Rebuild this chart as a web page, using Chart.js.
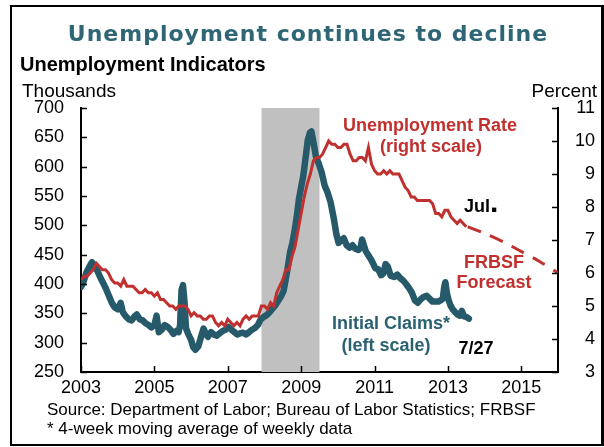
<!DOCTYPE html>
<html>
<head>
<meta charset="utf-8">
<script src="https://cdn.jsdelivr.net/npm/chart.js@4.4.1/dist/chart.umd.min.js"></script>
<style>
  html, body { margin: 0; padding: 0; background: #fff; }
  #wrap { position: relative; width: 604px; height: 447px; overflow: hidden; }
  #frame { position: absolute; left: 10px; top: 5px; width: 589px; height: 437px;
           border: 2px solid #000; border-right-width: 3px; box-sizing: content-box; }
  canvas { position: absolute; left: 0; top: 0; }
  .t { position: absolute; white-space: nowrap; line-height: 1; font-family: "Liberation Sans", Arial, sans-serif; }
  .c { transform: translateX(-50%); }
  .b { font-weight: bold; }
  .red { color: #c0302e; }
  .teal { color: #2a6171; }
</style>
</head>
<body>
<div id="wrap">
  <div id="frame"></div>
  <canvas id="chart" width="604" height="447"></canvas>

  <div class="t c" style="left:308px; top:23px; font-family:'DejaVu Sans', sans-serif; font-weight:bold; font-size:22px; letter-spacing:1px; color:#2e6676;">Unemployment continues to decline</div>
  <div class="t b" style="left:20px; top:54px; font-size:20px;">Unemployment Indicators</div>
  <div class="t" style="left:22px; top:81px; font-size:19px;">Thousands</div>
  <div class="t" style="right:7px; top:81px; font-size:19px;">Percent</div>

  <div class="t c b red" style="left:430px; top:116px; font-size:18px;">Unemployment Rate</div>
  <div class="t c b red" style="left:431px; top:137px; font-size:18px;">(right scale)</div>
  <div class="t b" style="left:464px; top:197px; font-size:18px;">Jul<span style="font-size:30px; line-height:0;">.</span></div>
  <div class="t c b red" style="left:494px; top:253px; font-size:18px;">FRBSF</div>
  <div class="t c b red" style="left:494px; top:273px; font-size:18px;">Forecast</div>
  <div class="t c b teal" style="left:391px; top:314px; font-size:18px;">Initial Claims*</div>
  <div class="t c b teal" style="left:386px; top:336px; font-size:18px;">(left scale)</div>
  <div class="t c b" style="left:476px; top:339px; font-size:18px;">7/27</div>

  <div class="t" style="left:47px; top:401px; font-size:17px;">Source: Department of Labor; Bureau of Labor Statistics; FRBSF</div>
  <div class="t" style="left:47px; top:420px; font-size:17px;">* 4-week moving average of weekly data</div>
</div>

<script>
// Unemployment indicators: initial claims (left axis) and unemployment rate (right axis)

var yearTicks = [2003, 2005, 2007, 2009, 2011, 2013, 2015];
var recession = [2007.92, 2009.5];

// monthly unemployment rate, Jan 2003 - Jul 2013
var urateStart = 2003;
var urate = [
  5.8, 5.9, 5.9, 6.0, 6.1, 6.3, 6.2, 6.1, 6.1, 6.0, 5.8, 5.7,
  5.7, 5.6, 5.8, 5.6, 5.6, 5.6, 5.5, 5.4, 5.4, 5.5, 5.4, 5.4,
  5.3, 5.4, 5.2, 5.2, 5.1, 5.0, 5.0, 4.9, 5.0, 5.0, 5.0, 4.9,
  4.7, 4.8, 4.7, 4.7, 4.6, 4.6, 4.7, 4.7, 4.5, 4.4, 4.5, 4.4,
  4.6, 4.5, 4.4, 4.5, 4.4, 4.6, 4.7, 4.6, 4.7, 4.7, 4.7, 5.0,
  5.0, 4.9, 5.1, 5.0, 5.4, 5.6, 5.8, 6.1, 6.1, 6.5, 6.8, 7.3,
  7.8, 8.3, 8.7, 9.0, 9.4, 9.5, 9.5, 9.6, 9.8, 10.0, 9.9, 9.9,
  9.8, 9.8, 9.9, 9.9, 9.6, 9.4, 9.4, 9.5, 9.5, 9.4, 9.8, 9.3,
  9.1, 9.0, 9.0, 9.1, 9.0, 9.1, 9.0, 9.0, 9.0, 8.8, 8.6, 8.5,
  8.3, 8.3, 8.2, 8.2, 8.2, 8.2, 8.2, 8.1, 7.8, 7.8, 7.7, 7.9,
  7.9, 7.7, 7.6, 7.5, 7.6, 7.5, 7.4
];

// FRBSF forecast path
var forecastYears = [2013.54, 2014.0, 2014.5, 2015.0, 2015.5, 2016.0];
var forecastValues = [7.4, 7.2, 6.95, 6.65, 6.35, 6.0];

// initial claims, 4-week moving average (thousands)
var claimsYears = [
  2003.00, 2003.06, 2003.15, 2003.25, 2003.30, 2003.38, 2003.45, 2003.52, 2003.60, 2003.68,
  2003.76, 2003.84, 2003.92, 2004.00, 2004.08, 2004.14, 2004.22, 2004.30, 2004.38, 2004.46,
  2004.52, 2004.60, 2004.68, 2004.76, 2004.84, 2004.92, 2005.00, 2005.06, 2005.12, 2005.20,
  2005.28, 2005.36, 2005.44, 2005.52, 2005.60, 2005.66, 2005.70, 2005.74, 2005.78, 2005.82,
  2005.86, 2005.92, 2006.00, 2006.06, 2006.12, 2006.20, 2006.28, 2006.34, 2006.40, 2006.46,
  2006.54, 2006.62, 2006.70, 2006.78, 2006.86, 2006.94, 2007.02, 2007.10, 2007.18, 2007.26,
  2007.34, 2007.42, 2007.50, 2007.58, 2007.66, 2007.74, 2007.82, 2007.90, 2007.98, 2008.06,
  2008.14, 2008.22, 2008.30, 2008.38, 2008.46, 2008.52, 2008.58, 2008.64, 2008.70, 2008.76,
  2008.82, 2008.88, 2008.94, 2009.00, 2009.06, 2009.12, 2009.18, 2009.24, 2009.28, 2009.34,
  2009.40, 2009.48, 2009.56, 2009.64, 2009.72, 2009.80, 2009.88, 2009.96, 2010.02, 2010.10,
  2010.16, 2010.24, 2010.32, 2010.40, 2010.48, 2010.56, 2010.62, 2010.66, 2010.70, 2010.76,
  2010.84, 2010.92, 2011.02, 2011.10, 2011.18, 2011.24, 2011.30, 2011.36, 2011.44, 2011.54,
  2011.62, 2011.70, 2011.78, 2011.86, 2011.94, 2012.02, 2012.10, 2012.18, 2012.26, 2012.34,
  2012.42, 2012.50, 2012.58, 2012.66, 2012.74, 2012.80, 2012.86, 2012.90, 2012.93, 2012.97,
  2013.02, 2013.08, 2013.14, 2013.20, 2013.26, 2013.32, 2013.38, 2013.44, 2013.50, 2013.57
];
var claimsValues = [
  395, 402, 420, 432, 437, 428, 422, 412, 402, 392,
  380, 368, 360, 357, 368, 352, 345, 340, 338, 345,
  348, 340, 338, 333, 330, 326, 330, 346, 318, 322,
  330, 327, 322, 315, 320, 318, 330, 390, 398, 370,
  325, 315, 305, 292, 288, 294, 312, 324, 315, 310,
  318, 314, 312, 316, 320, 322, 327, 322, 318, 314,
  316, 317, 314, 318, 322, 325, 330, 340, 344, 347,
  352, 358, 364, 372, 380, 388, 408, 430, 455, 470,
  490, 515, 545, 565, 585, 615, 645, 658, 660, 640,
  618, 605, 590, 568, 556, 540, 515, 485, 470, 475,
  478, 466, 462, 466, 460, 458, 462, 476, 468, 456,
  448, 440, 427, 425, 415, 418, 434, 430, 414, 412,
  416, 410, 406, 400, 393, 385, 372, 368, 374, 378,
  380, 375, 370, 370, 370, 372, 375, 395, 403, 385,
  372, 362, 356, 352, 348, 346, 354, 345, 344, 341
];

function pairs(xs, ys) {
  return xs.map(function (x, i) { return { x: x, y: ys[i] }; });
}

var urateData = urate.map(function (v, i) { return { x: urateStart + i / 12, y: v }; });

var RED = '#c0302e';
var TEAL = '#265a6b';

// grey recession band
var recessionBand = {
  id: 'recessionBand',
  beforeDatasetsDraw: function (chart) {
    var a = chart.chartArea, x = chart.scales.x, ctx = chart.ctx;
    var x0 = x.getPixelForValue(recession[0]);
    var x1 = x.getPixelForValue(recession[1]);
    ctx.save();
    ctx.fillStyle = '#c0c0c0';
    ctx.fillRect(x0, a.top, x1 - x0, a.bottom - a.top);
    ctx.restore();
  }
};

// short tick marks pointing into the plot
var inwardTicks = {
  id: 'inwardTicks',
  afterDatasetsDraw: function (chart) {
    var a = chart.chartArea, s = chart.scales, ctx = chart.ctx;
    var len = 6;
    ctx.save();
    ctx.strokeStyle = '#000';
    ctx.lineWidth = 1.5;
    ctx.beginPath();
    s.x.ticks.forEach(function (t) {
      var p = Math.round(s.x.getPixelForValue(t.value)) + 0.5;
      ctx.moveTo(p, a.bottom); ctx.lineTo(p, a.bottom - len);
    });
    s.y.ticks.forEach(function (t) {
      var p = Math.round(s.y.getPixelForValue(t.value)) + 0.5;
      ctx.moveTo(a.left, p); ctx.lineTo(a.left + len, p);
    });
    s.y2.ticks.forEach(function (t) {
      var p = Math.round(s.y2.getPixelForValue(t.value)) + 0.5;
      ctx.moveTo(a.right, p); ctx.lineTo(a.right - len, p);
    });
    ctx.stroke();
    ctx.restore();
  }
};

Chart.defaults.font.family = '"Liberation Sans", Arial, sans-serif';
Chart.defaults.font.size = 18;
Chart.defaults.color = '#000';

new Chart(document.getElementById('chart'), {
  type: 'line',
  data: {
    datasets: [
      {
        label: 'Unemployment Rate',
        data: urateData,
        yAxisID: 'y2',
        borderColor: RED,
        borderWidth: 3,
        pointRadius: 0,
        tension: 0
      },
      {
        label: 'FRBSF Forecast',
        data: pairs(forecastYears, forecastValues),
        yAxisID: 'y2',
        borderColor: RED,
        borderWidth: 3,
        borderDash: [14, 10],
        pointRadius: 0,
        tension: 0.3
      },
      {
        label: 'Initial Claims',
        data: pairs(claimsYears, claimsValues),
        yAxisID: 'y',
        borderColor: TEAL,
        borderWidth: 6.5,
        borderJoinStyle: 'round',
        borderCapStyle: 'round',
        pointRadius: 0,
        tension: 0
      }
    ]
  },
  options: {
    responsive: false,
    animation: false,
    devicePixelRatio: 1,
    layout: { padding: { top: 108, left: 0, right: 9, bottom: 45 } },
    plugins: {
      legend: { display: false },
      tooltip: { enabled: false }
    },
    scales: {
      x: {
        type: 'linear',
        min: 2003,
        max: 2016,
        afterBuildTicks: function (s) {
          s.ticks = yearTicks.map(function (v) { return { value: v }; });
        },
        afterFit: function (s) { s.height = 30; },
        grid: { display: false, drawTicks: false },
        border: { display: true, color: '#000', width: 2 },
        ticks: {
          padding: 5,
          maxRotation: 0,
          autoSkip: false,
          callback: function (v) { return String(v); }
        }
      },
      y: {
        position: 'left',
        min: 250,
        max: 700,
        afterFit: function (s) { s.width = 81; },
        grid: { display: false, drawTicks: false },
        border: { display: true, color: '#000', width: 2 },
        ticks: { stepSize: 50, padding: 17 }
      },
      y2: {
        position: 'right',
        min: 3,
        max: 11,
        afterFit: function (s) { s.width = 37; },
        grid: { display: false, drawTicks: false },
        border: { display: true, color: '#000', width: 2 },
        ticks: { stepSize: 1, padding: 17, crossAlign: 'far' }
      }
    }
  },
  plugins: [recessionBand, inwardTicks]
});
</script>
</body>
</html>
